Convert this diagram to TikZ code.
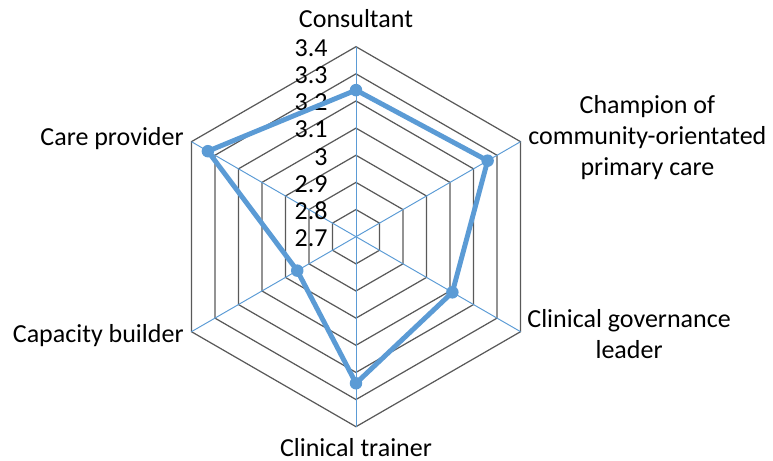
\documentclass[tikz,border=0pt]{standalone}
\usepackage{fontspec}
\setmainfont{Carlito}
\definecolor{chartblue}{RGB}{91,155,213}
\definecolor{ringgray}{RGB}{89,89,89}
\tikzset{
  ring/.style={draw=ringgray,line width=0.7pt},
  spoke/.style={draw=chartblue,line width=0.55pt},
  series/.style={draw=chartblue,line width=2.8pt,line join=round},
  dot/.style={circle,fill=chartblue,inner sep=0pt,minimum size=0.25cm},
  axislabel/.style={font=\fontsize{14.8}{17.6}\selectfont,inner sep=0pt},
  ticklabel/.style={font=\fontsize{14.8}{17.6}\selectfont,inner sep=0pt,anchor=east},
}
\begin{document}
\begin{tikzpicture}
  \useasboundingbox (-7.12,-4.486) rectangle (8.34,4.734);

  % grid
  \foreach \k [evaluate=\k as \r using \k*3.8/7] in {1,...,7}
    \draw[ring] (90:\r) -- (30:\r) -- (-30:\r) -- (-90:\r) -- (-150:\r) -- (150:\r) -- cycle;
  \foreach \a in {90,30,...,-210}
    \draw[spoke] (0,0) -- (\a:3.8);

  % scale
  \foreach \v [count=\k from 0] in {2.7,2.8,2.9,3,3.1,3.2,3.3,3.4}
    \node[ticklabel] (t\k) at (-0.56,{\k*3.8/7-0.03}) {\v};

  % series
  \foreach \a/\v/\n in {90/3.24/1,30/3.26/2,-30/3.11/3,-90/3.24/4,-150/2.95/5,150/3.33/6}
    \coordinate (p\n) at (\a:{(\v-2.7)*3.8/0.7});
  \draw[series] (p1) -- (p2) -- (p3) -- (p4) -- (p5) -- (p6) -- cycle;
  \foreach \n in {1,...,6}
    \node[dot] (d\n) at (p\n) {};

  % axis names
  \node[axislabel,anchor=base] (consultant) at (0,4.174) {Consultant};
  \node[axislabel,anchor=west,align=center] (champion) at ([xshift=0.15cm,yshift=0.074cm]30:3.8) {Champion of\\community-orientated\\primary care};
  \node[axislabel,anchor=west,align=center] (governance) at ([xshift=0.13cm,yshift=-0.046cm]-30:3.8) {Clinical governance\\leader};
  \node[axislabel,anchor=base] (trainer) at (0,-4.406) {Clinical trainer};
  \node[axislabel,anchor=base east] (capacity) at (-3.44,-2.126) {Capacity builder};
  \node[axislabel,anchor=base east] (provider) at (-3.44,1.814) {Care provider};
\end{tikzpicture}
\end{document}
